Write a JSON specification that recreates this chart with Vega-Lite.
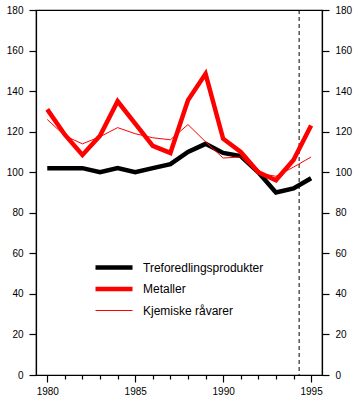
{
  "$schema": "https://vega.github.io/schema/vega-lite/v6.json",
  "width": 286,
  "height": 365,
  "autosize": "none",
  "padding": {"left": 36, "top": 10, "right": 38, "bottom": 37},
  "background": "white",
  "config": {
    "font": "Liberation Sans",
    "view": {"stroke": "black", "strokeWidth": 1.2},
    "axis": {
      "domainColor": "black", "domainWidth": 1.2, "tickColor": "black", "tickWidth": 1.2,
      "labelColor": "black", "labelFontSize": 10, "labelFont": "Liberation Sans", "grid": false, "title": null
    }
  },
  "datasets": {
    "series": [
      {"year": 1980, "series": "Treforedlingsprodukter", "value": 102},
      {"year": 1981, "series": "Treforedlingsprodukter", "value": 102},
      {"year": 1982, "series": "Treforedlingsprodukter", "value": 102},
      {"year": 1983, "series": "Treforedlingsprodukter", "value": 100},
      {"year": 1984, "series": "Treforedlingsprodukter", "value": 102},
      {"year": 1985, "series": "Treforedlingsprodukter", "value": 100},
      {"year": 1986, "series": "Treforedlingsprodukter", "value": 102},
      {"year": 1987, "series": "Treforedlingsprodukter", "value": 104},
      {"year": 1988, "series": "Treforedlingsprodukter", "value": 110},
      {"year": 1989, "series": "Treforedlingsprodukter", "value": 114},
      {"year": 1990, "series": "Treforedlingsprodukter", "value": 109.5},
      {"year": 1991, "series": "Treforedlingsprodukter", "value": 108},
      {"year": 1992, "series": "Treforedlingsprodukter", "value": 100},
      {"year": 1993, "series": "Treforedlingsprodukter", "value": 90},
      {"year": 1994, "series": "Treforedlingsprodukter", "value": 92},
      {"year": 1995, "series": "Treforedlingsprodukter", "value": 97},
      {"year": 1980, "series": "Metaller", "value": 131},
      {"year": 1981, "series": "Metaller", "value": 118.5},
      {"year": 1982, "series": "Metaller", "value": 108.5},
      {"year": 1983, "series": "Metaller", "value": 118},
      {"year": 1984, "series": "Metaller", "value": 135},
      {"year": 1985, "series": "Metaller", "value": 124},
      {"year": 1986, "series": "Metaller", "value": 113},
      {"year": 1987, "series": "Metaller", "value": 109.5},
      {"year": 1988, "series": "Metaller", "value": 135.5},
      {"year": 1989, "series": "Metaller", "value": 148.5},
      {"year": 1990, "series": "Metaller", "value": 116.5},
      {"year": 1991, "series": "Metaller", "value": 110},
      {"year": 1992, "series": "Metaller", "value": 100},
      {"year": 1993, "series": "Metaller", "value": 96},
      {"year": 1994, "series": "Metaller", "value": 106},
      {"year": 1995, "series": "Metaller", "value": 123},
      {"year": 1980, "series": "Kjemiske råvarer", "value": 126},
      {"year": 1981, "series": "Kjemiske råvarer", "value": 118},
      {"year": 1982, "series": "Kjemiske råvarer", "value": 114},
      {"year": 1983, "series": "Kjemiske råvarer", "value": 117.5},
      {"year": 1984, "series": "Kjemiske råvarer", "value": 122},
      {"year": 1985, "series": "Kjemiske råvarer", "value": 119},
      {"year": 1986, "series": "Kjemiske råvarer", "value": 117},
      {"year": 1987, "series": "Kjemiske råvarer", "value": 116},
      {"year": 1988, "series": "Kjemiske råvarer", "value": 123.5},
      {"year": 1989, "series": "Kjemiske råvarer", "value": 115},
      {"year": 1990, "series": "Kjemiske råvarer", "value": 107},
      {"year": 1991, "series": "Kjemiske råvarer", "value": 107.5},
      {"year": 1992, "series": "Kjemiske råvarer", "value": 99.5},
      {"year": 1993, "series": "Kjemiske råvarer", "value": 98},
      {"year": 1994, "series": "Kjemiske råvarer", "value": 102.5},
      {"year": 1995, "series": "Kjemiske råvarer", "value": 107.5}
    ],
    "marker": [{"year": 1994.32}]
  },
  "layer": [
    {
      "data": {"name": "marker"},
      "mark": {"type": "rule", "color": "black", "strokeWidth": 1, "strokeDash": [4, 3]},
      "encoding": {
        "x": {
          "field": "year", "type": "quantitative",
          "scale": {"domain": [1979.36, 1995.62], "nice": false, "zero": false},
          "axis": {
            "values": [1980,1981,1982,1983,1984,1985,1986,1987,1988,1989,1990,1991,1992,1993,1994,1995],
            "format": "d",
            "labelExpr": "datum.value % 5 === 0 ? datum.label : ''",
            "tickSize": {"condition": {"test": "datum.value % 5 === 0", "value": 7}, "value": 4},
            "labelPadding": 4,
            "labelFlush": false
          }
        }
      }
    },
    {
      "data": {"name": "series"},
      "mark": {"type": "line", "strokeJoin": "miter", "clip": true},
      "encoding": {
        "x": {
          "field": "year", "type": "quantitative",
          "scale": {"domain": [1979.36, 1995.62], "nice": false, "zero": false},
          "axis": {
            "values": [1980,1981,1982,1983,1984,1985,1986,1987,1988,1989,1990,1991,1992,1993,1994,1995],
            "format": "d",
            "labelExpr": "datum.value % 5 === 0 ? datum.label : ''",
            "tickSize": {"condition": {"test": "datum.value % 5 === 0", "value": 7}, "value": 4},
            "labelPadding": 4,
            "labelFlush": false
          }
        },
        "y": {
          "field": "value", "type": "quantitative",
          "scale": {"domain": [0, 180], "nice": false},
          "axis": {"values": [0,20,40,60,80,100,120,140,160,180], "tickSize": 7, "labelPadding": 6, "orient": "left"}
        },
        "color": {
          "field": "series", "type": "nominal",
          "scale": {"domain": ["Treforedlingsprodukter", "Metaller", "Kjemiske råvarer"], "range": ["black", "#ff0000", "#ff0000"]},
          "legend": {
            "title": null, "orient": "none", "legendX": 57, "legendY": 249,
            "symbolType": "stroke", "symbolSize": 1369, "clipHeight": 17, "labelFontSize": 12, "labelFont": "Liberation Sans",
            "labelColor": "black", "labelOffset": 8, "rowPadding": 4.5
          }
        },
        "strokeWidth": {
          "field": "series", "type": "nominal",
          "scale": {"type": "ordinal", "domain": ["Treforedlingsprodukter", "Metaller", "Kjemiske råvarer"], "range": [4.5, 4.5, 1]},
          "legend": {
            "title": null, "orient": "none", "legendX": 57, "legendY": 249,
            "symbolType": "stroke", "symbolSize": 1369, "clipHeight": 17, "labelFontSize": 12, "labelFont": "Liberation Sans",
            "labelColor": "black", "labelOffset": 8, "rowPadding": 4.5
          }
        }
      }
    },
    {
      "data": {"name": "series"},
      "mark": {"type": "point", "opacity": 0},
      "encoding": {
        "x": {
          "field": "year", "type": "quantitative",
          "scale": {"domain": [1979.36, 1995.62], "nice": false, "zero": false},
          "axis": {
            "values": [1980,1981,1982,1983,1984,1985,1986,1987,1988,1989,1990,1991,1992,1993,1994,1995],
            "format": "d",
            "labelExpr": "datum.value % 5 === 0 ? datum.label : ''",
            "tickSize": {"condition": {"test": "datum.value % 5 === 0", "value": 7}, "value": 4},
            "labelPadding": 4,
            "labelFlush": false
          }
        },
        "y": {
          "field": "value", "type": "quantitative",
          "scale": {"domain": [0, 180], "nice": false},
          "axis": {"values": [0,20,40,60,80,100,120,140,160,180], "tickSize": 7, "labelPadding": 6, "orient": "right"}
        }
      }
    }
  ],
  "resolve": {"axis": {"y": "independent"}}
}
